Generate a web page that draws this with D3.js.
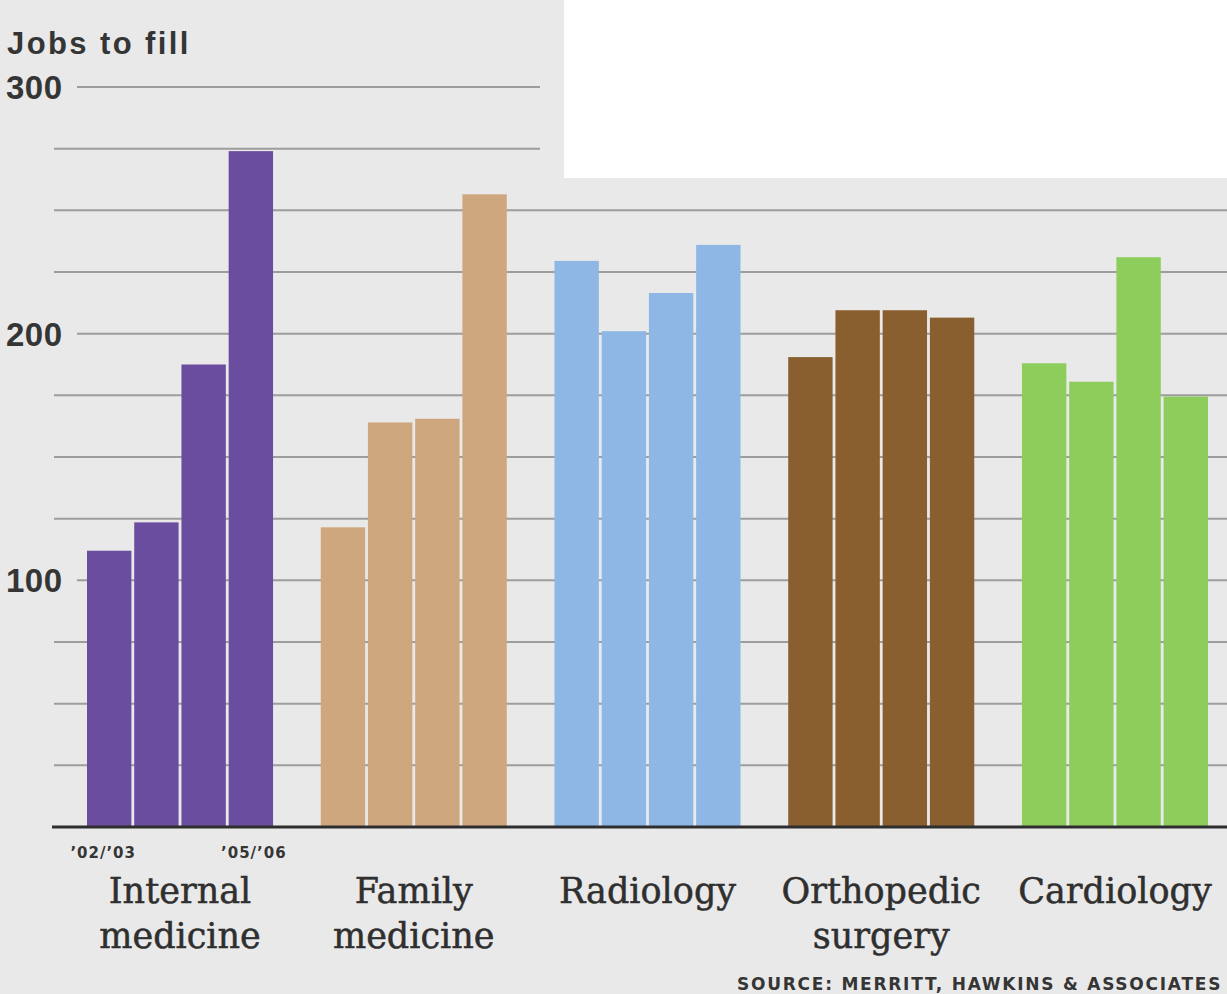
<!DOCTYPE html>
<html>
<head>
<meta charset="utf-8">
<script src="https://cdn.jsdelivr.net/npm/d3@7"></script>
<style>
  html, body { margin: 0; padding: 0; background: #ffffff; }
  svg { display: block; }
</style>
</head>
<body>
<svg id="chart" width="1227" height="994"></svg>
<script>
// Physician recruiting: jobs to fill by specialty, four seasons each
const specialties = ["Internal medicine", "Family medicine", "Radiology", "Orthopedic surgery", "Cardiology"];
const labelLines = [["Internal", "medicine"], ["Family", "medicine"], ["Radiology"], ["Orthopedic", "surgery"], ["Cardiology"]];
const seasons = ["\u201902/\u201903", "\u201903/\u201904", "\u201904/\u201905", "\u201905/\u201906"];
const internalMedicine = [112, 123.5, 187.5, 274];
const familyMedicine = [121.5, 164, 165.5, 256.5];
const radiology = [229.5, 201, 216.5, 236];
const orthopedicSurgery = [190.5, 209.5, 209.5, 206.5];
const cardiology = [188, 180.5, 231, 174.5];
const yTicks = [100, 200, 300];
const gridValues = [25, 50, 75, 100, 125, 150, 175, 200, 225, 250, 275, 300];
const colors = ["#6a4d9e", "#cfa77f", "#8fb7e6", "#8a5f30", "#8ccd5b"];
const sourceText = "SOURCE: MERRITT, HAWKINS & ASSOCIATES";

const seriesBySpecialty = [internalMedicine, familyMedicine, radiology, orthopedicSurgery, cardiology];

const svg = d3.select("#chart");
const W = 1227, H = 994;
const ink = "#353535";

const y = d3.scaleLinear().domain([0, 300]).range([827, 87]);
const x0 = d3.scaleBand().domain(specialties).range([87, 1208]).paddingInner(0.204).paddingOuter(0);
const x1 = d3.scaleBand().domain(seasons).range([0, x0.bandwidth()]).paddingInner(0.06);

// paper background with a white notch at the top right
svg.append("rect").attr("x", 0).attr("y", 0).attr("width", W).attr("height", H).attr("fill", "#e9e9e9");
svg.append("rect").attr("x", 564).attr("y", 0).attr("width", W - 564).attr("height", 178).attr("fill", "#ffffff");

// horizontal gridlines
const grid = svg.append("g").attr("class", "grid");
grid.selectAll("line").data(gridValues).join("line")
  .attr("x1", d => yTicks.includes(d) ? 77 : 54)
  .attr("x2", d => d >= 275 ? 540 : W)
  .attr("y1", d => y(d)).attr("y2", d => y(d))
  .attr("stroke", "#9c9d9c").attr("stroke-width", 2);

// y tick labels
svg.append("g").selectAll("text").data(yTicks).join("text")
  .attr("x", 6).attr("y", d => y(d) + 12)
  .attr("font-family", "Liberation Sans, Arial, sans-serif")
  .attr("font-weight", "bold").attr("font-size", 33)
  .attr("letter-spacing", 0.5)
  .attr("fill", ink)
  .text(d => d);

svg.append("text")
  .attr("x", 7).attr("y", 54)
  .attr("font-family", "Liberation Sans, Arial, sans-serif")
  .attr("font-weight", "bold").attr("font-size", 31)
  .attr("letter-spacing", 2.4)
  .attr("fill", ink)
  .text("Jobs to fill");

// bars
const groups = svg.append("g").selectAll("g").data(specialties).join("g")
  .attr("transform", d => `translate(${x0(d)},0)`);

groups.each(function(name, i) {
  d3.select(this).selectAll("rect")
    .data(seriesBySpecialty[i].map((v, j) => ({ season: seasons[j], value: v })))
    .join("rect")
    .attr("x", d => x1(d.season))
    .attr("width", x1.bandwidth())
    .attr("y", d => y(d.value))
    .attr("height", d => y(0) - y(d.value))
    .attr("fill", colors[i]);
});

// baseline
svg.append("line")
  .attr("x1", 52).attr("x2", W)
  .attr("y1", y(0)).attr("y2", y(0))
  .attr("stroke", "#2e2e2e").attr("stroke-width", 3);

// season labels under the first group
const firstGroup = specialties[0];
svg.append("g").selectAll("text").data([seasons[0], seasons[3]]).join("text")
  .attr("x", (d, k) => x0(firstGroup) + x1(d) + x1.bandwidth() / 2 + (k === 0 ? -6 : 3))
  .attr("y", 858)
  .attr("text-anchor", "middle")
  .attr("font-family", "DejaVu Sans, sans-serif")
  .attr("font-weight", "bold").attr("font-size", 15)
  .attr("letter-spacing", 1)
  .attr("fill", ink)
  .text(d => d);

// specialty labels
const labels = svg.append("g").selectAll("text").data(specialties).join("text")
  .attr("x", d => x0(d) + x0.bandwidth() / 2)
  .attr("y", 903)
  .attr("text-anchor", "middle")
  .attr("font-family", "DejaVu Serif, Georgia, serif")
  .attr("font-size", 35)
  .attr("fill", "#2f2f2f")
  .attr("stroke", "#2f2f2f").attr("stroke-width", 0.5);
labels.each(function(d, i) {
  d3.select(this).selectAll("tspan").data(labelLines[i]).join("tspan")
    .attr("x", x0(d) + x0.bandwidth() / 2)
    .attr("dy", (t, k) => k === 0 ? 0 : 45)
    .text(t => t);
});

// source line along the bottom right
svg.append("text")
  .attr("x", 737).attr("y", 990)
  .attr("font-family", "DejaVu Sans, sans-serif")
  .attr("font-weight", "bold").attr("font-size", 17)
  .attr("letter-spacing", 1.75)
  .attr("fill", ink)
  .text(sourceText);
</script>
</body>
</html>
